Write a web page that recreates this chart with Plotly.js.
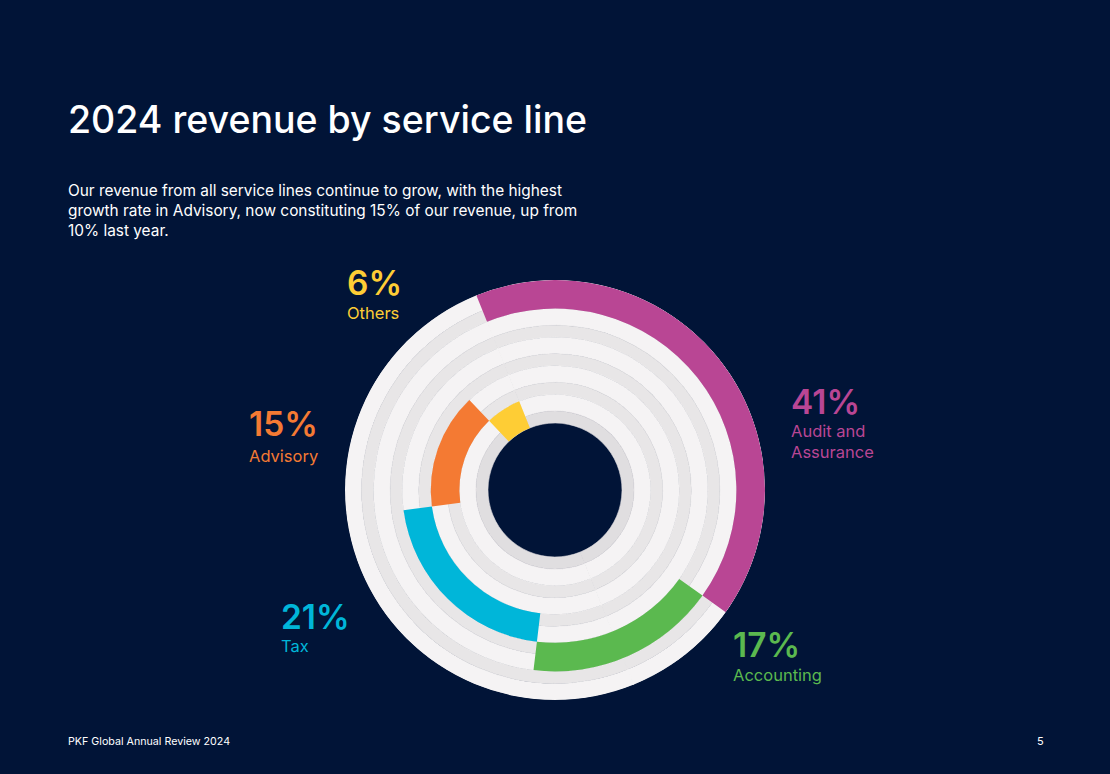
<!DOCTYPE html>
<html>
<head>
<meta charset="utf-8">
<script src="https://cdn.plot.ly/plotly-3.0.1.min.js"></script>
<style>
html,body{margin:0;padding:0;background:#011437;}
#chart{width:1110px;height:774px;}
</style>
</head>
<body>
<div id="chart"></div>
<script>
// ---- data ----
const categories = ['Audit and Assurance', 'Accounting', 'Tax', 'Advisory', 'Others'];
const shares = [41, 17, 21, 15, 6];
const pctLabels = ['41%', '17%', '21%', '15%', '6%'];
const nameLines = [['Audit and', 'Assurance'], ['Accounting'], ['Tax'], ['Advisory'], ['Others']];
const colors = ['#b94694', '#5bb94f', '#00b6d9', '#f47a33', '#fecd35'];

// ---- style / layout ----
const W = 1110, H = 774;
const BG = '#011437';
const FONT = 'Inter, "Open Sans", sans-serif';
const cx = 555, cy = 490, R = 210, R0 = 67;
const nRings = categories.length;
const ringEdges = [];
for (let i = 0; i <= nRings; i++) ringEdges.push(R - i * (R - R0) / nRings);
// ring i spans ringEdges[i+1] .. ringEdges[i]
const lightCol = '#f5f3f4', grayCol = '#e8e6e7', innerGray = '#e0dee0';
const grayFrac = 0.42;

const traces = [];
// background rings: light outer part, gray inner part (two halves each)
const bgTheta = [], bgWidth = [], bgBase = [], bgR = [], bgColor = [];
for (let i = 0; i < nRings; i++) {
  const outer = ringEdges[i], inner = ringEdges[i + 1];
  const t = outer - inner;
  const mid = inner + t * grayFrac;
  for (const th of [90, 270]) {
    bgTheta.push(th); bgWidth.push(180.2);
    bgBase.push(mid); bgR.push(outer - mid); bgColor.push(lightCol);
    bgTheta.push(th); bgWidth.push(180.2);
    bgBase.push(inner); bgR.push(mid - inner); bgColor.push(i === nRings - 1 ? innerGray : grayCol);
  }
}
traces.push({
  type: 'barpolar', theta: bgTheta, width: bgWidth, base: bgBase, r: bgR,
  marker: {color: bgColor, line: {color: bgColor, width: 0.6}},
  hoverinfo: 'skip', showlegend: false
});

// coloured segments: each share continues where the previous one ended, one ring inward
const segTheta = [], segWidth = [], segBase = [], segR = [];
let cum = 0;
for (let i = 0; i < nRings; i++) {
  const span = shares[i] * 3.6;
  segTheta.push(cum + span / 2);
  segWidth.push(span);
  segBase.push(ringEdges[i + 1]);
  segR.push(ringEdges[i] - ringEdges[i + 1]);
  cum += span;
}
traces.push({
  type: 'barpolar', theta: segTheta, width: segWidth, base: segBase, r: segR,
  text: categories, marker: {color: colors, line: {width: 0}},
  hovertemplate: '%{text}<extra></extra>', showlegend: false
});

function px(x) { return x / W; }
function py(y) { return 1 - y / H; }
function ann(text, x, y, size, color, weight, anchor) {
  return {
    text: text, x: px(x), y: py(y), xref: 'paper', yref: 'paper',
    xanchor: anchor || 'left', yanchor: 'middle', showarrow: false,
    font: {family: FONT, size: size, color: color, weight: weight || 400}
  };
}

const annotations = [];
annotations.push(ann('2024 revenue by service line', 66, 119, 37.5, '#ffffff', 500));
const sub = ['Our revenue from all service lines continue to grow, with the highest',
             'growth rate in Advisory, now constituting 15% of our revenue, up from',
             '10% last year.'];
const subY = [190, 211, 231];
sub.forEach((s, i) => annotations.push(ann(s, 66, subY[i], 15.4, '#ffffff', 400)));

// label positions (pixels) for each category
const labelPos = [[789, 402], [731, 645], [279, 617], [247, 424], [345, 283]];
const nameY0 = [431, 675, 646, 456, 313];
for (let i = 0; i < nRings; i++) {
  annotations.push(ann(pctLabels[i], labelPos[i][0], labelPos[i][1], 33.5, colors[i], 600));
  nameLines[i].forEach((l, j) =>
    annotations.push(ann(l, labelPos[i][0], nameY0[i] + j * 21, 16.5, colors[i], 400)));
}
annotations.push(ann('PKF Global Annual Review 2024', 66, 741, 10.7, '#ffffff', 400));
annotations.push(ann('5', 1046, 741, 11, '#ffffff', 400, 'right'));

const layout = {
  width: W, height: H,
  paper_bgcolor: BG, plot_bgcolor: BG,
  margin: {l: 0, r: 0, t: 0, b: 0},
  showlegend: false,
  polar: {
    domain: {x: [px(cx - R), px(cx + R)], y: [py(cy + R), py(cy - R)]},
    bgcolor: 'rgba(0,0,0,0)',
    hole: 0,
    barmode: 'overlay',
    radialaxis: {range: [0, R], visible: false, showgrid: false, showline: false, ticks: ''},
    angularaxis: {visible: false, showgrid: false, showline: false, ticks: '',
                  rotation: 112, direction: 'clockwise'}
  },
  annotations: annotations
};

Plotly.newPlot('chart', traces, layout, {displayModeBar: false, staticPlot: true});
</script>
</body>
</html>
